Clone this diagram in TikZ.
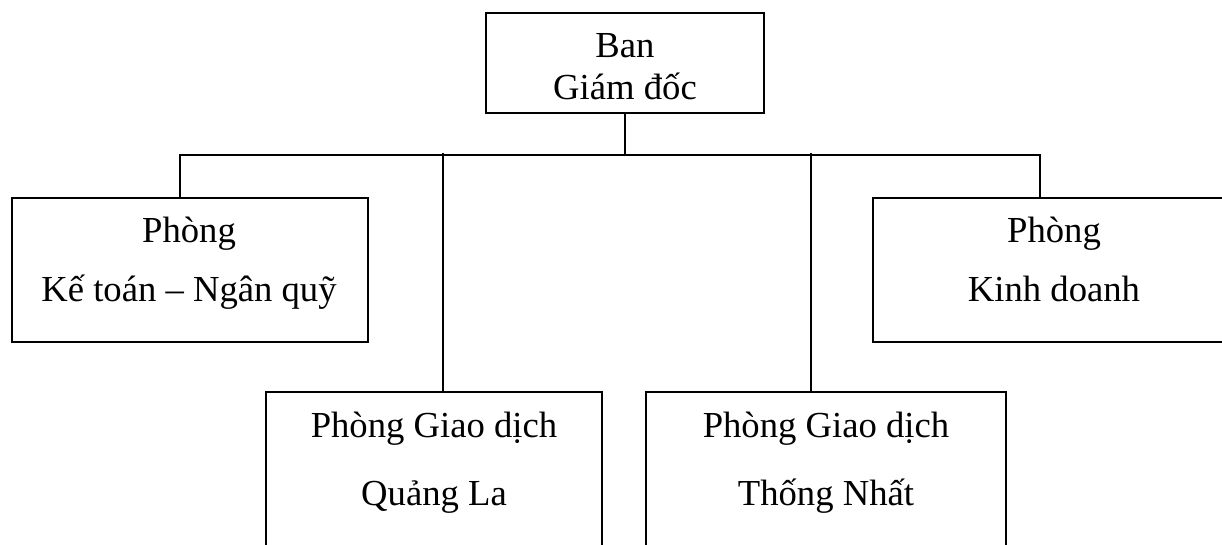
\documentclass[tikz,border=0pt]{standalone}
\usepackage{fontspec}
\setmainfont{Liberation Serif}
\begin{document}
\begin{tikzpicture}[x=0.75pt,y=-0.75pt,
  box/.style={draw=black,line width=1.1pt,inner sep=0pt,fill=none},
  lbl/.style={anchor=base,inner sep=0pt,font=\fontsize{27.5}{33}\selectfont},
  conn/.style={draw=black,line width=1.1pt}]
\useasboundingbox (0,0) rectangle (1222,545);
\fill[white] (0,0) rectangle (1222,545);
\clip (0,0) rectangle (1222,545);
% boxes
\node[box,minimum width=208.5pt,minimum height=75pt] (top) at (625,63) {};
\node[box,minimum width=267pt,minimum height=108pt] (left) at (190,270) {};
\node[box,minimum width=275.25pt,minimum height=108pt] (right) at (1056.5,270) {};
\node[box,minimum width=252pt,minimum height=156pt] (bl) at (434,496) {};
\node[box,minimum width=270pt,minimum height=156pt] (br) at (826,496) {};
% texts
\node[lbl] (t1) at (625,58) {Ban};
\node[lbl] (t2) at (625,100) {Giám đốc};
\node[lbl] (l1) at (189,243) {Phòng};
\node[lbl] (l2) at (189,302) {Kế toán – Ngân quỹ};
\node[lbl] (r1) at (1054,243) {Phòng};
\node[lbl] (r2) at (1054,302) {Kinh doanh};
\node[lbl] (b1) at (434,437) {Phòng Giao dịch};
\node[lbl] (b2) at (434,505) {Quảng La};
\node[lbl] (c1) at (826,437) {Phòng Giao dịch};
\node[lbl] (c2) at (826,505) {Thống Nhất};
% connectors
\coordinate (jL) at (180,155);
\coordinate (jR) at (1040,155);
\coordinate (tA) at (443,153);
\coordinate (tB) at (811,153);
\draw[conn] (top.south) -- (top.south |- jL);
\draw[conn] (left.north -| jL) -- (jL) -- (jR) -- (right.north -| jR);
\draw[conn] (tA) -- (bl.north -| tA);
\draw[conn] (tB) -- (br.north -| tB);
\end{tikzpicture}
\end{document}
